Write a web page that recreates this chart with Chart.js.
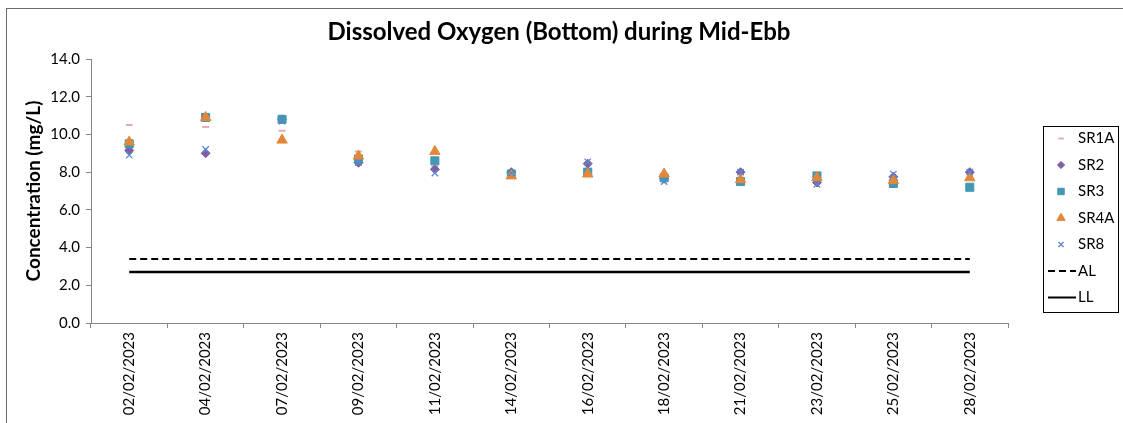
<!DOCTYPE html>
<html>
<head>
<meta charset="utf-8">
<script src="https://cdn.jsdelivr.net/npm/chart.js@4.4.1/dist/chart.umd.min.js"></script>
<style>
  html, body { margin: 0; padding: 0; background: #ffffff; }
  #wrap { width: 1123px; height: 423px; position: relative; }
</style>
</head>
<body>
<div id="wrap"><canvas id="c" width="1123" height="423"></canvas></div>
<script>
const categories = ["02/02/2023","04/02/2023","07/02/2023","09/02/2023","11/02/2023","14/02/2023","16/02/2023","18/02/2023","21/02/2023","23/02/2023","25/02/2023","28/02/2023"];
const sr1a = [10.5, 10.4, 10.2, 9.1, 8.3, 7.9, 8.0, 7.7, 7.5, 7.8, 7.5, 7.7];
const sr2  = [9.15, 9.0, 10.8, 8.5, 8.15, 8.0, 8.45, 7.65, 8.0, 7.45, 7.75, 8.0];
const sr3  = [9.5, 10.9, 10.8, 8.7, 8.6, 7.9, 8.0, 7.7, 7.5, 7.8, 7.4, 7.2];
const sr4a = [9.6, 10.9, 9.7, 8.85, 9.1, 7.8, 7.9, 7.9, 7.6, 7.7, 7.55, 7.7];
const sr8  = [8.9, 9.2, 10.7, 8.5, 7.95, 7.95, 8.55, 7.5, 8.0, 7.35, 7.9, 8.0];
const alValue = 3.4;
const llValue = 2.7;
const alLine = categories.map(() => alValue);
const llLine = categories.map(() => llValue);
const yTicks = [0, 2, 4, 6, 8, 10, 12, 14];
const chartTitle = 'Dissolved Oxygen (Bottom) during Mid-Ebb';
const yTitle = 'Concentration (mg/L)';

const FONT = "Lato, 'Open Sans', 'Liberation Sans', sans-serif";

function scatterSet(label, data, color, style, radius, order) {
  return {
    label, data, order,
    showLine: false,
    borderColor: color,
    backgroundColor: color,
    pointStyle: style,
    pointRadius: radius,
    pointHoverRadius: radius,
    pointBorderWidth: style === 'line' ? 2 : (style === 'crossRot' ? 1.3 : 1),
    pointBackgroundColor: color,
    pointBorderColor: color
  };
}

const datasets = [
  scatterSet('SR1A', sr1a, '#E2AEB4', 'line', 3.5, 5),
  scatterSet('SR2', sr2, '#7D5FA3', 'rectRot', 4.5, 4),
  scatterSet('SR3', sr3, '#4298B2', 'rect', 5.7, 3),
  scatterSet('SR4A', sr4a, '#E3883A', 'triangle', 6, 2),
  scatterSet('SR8', sr8, '#5A88CC', 'crossRot', 4.5, 1),
  { label: 'AL', data: alLine, order: 6, showLine: true, borderColor: '#000000', borderWidth: 2, borderDash: [7, 4], pointRadius: 0, fill: false },
  { label: 'LL', data: llLine, order: 7, showLine: true, borderColor: '#000000', borderWidth: 2.5, pointRadius: 0, fill: false }
];

const frameAndLegend = {
  id: 'frameAndLegend',
  afterDraw(chart) {
    const ctx = chart.ctx;
    ctx.save();
    // outer frame
    ctx.strokeStyle = '#6b6b6b';
    ctx.lineWidth = 1;
    ctx.strokeRect(6.5, 8.5, 1300, 600);
    // title
    ctx.fillStyle = '#000000';
    ctx.font = "bold 24px " + FONT;
    ctx.textAlign = 'center';
    ctx.textBaseline = 'middle';
    ctx.fillText(chartTitle, 559, 32);
    // legend box
    ctx.textAlign = 'left';
    const bx = 1043.5, by = 126.5, bw = 75, bh = 186;
    ctx.strokeStyle = '#000000';
    ctx.strokeRect(bx, by, bw, bh);
    const rowY0 = 138.5, rowStep = 26.5;
    ctx.font = "15px " + FONT;
    ctx.textBaseline = 'middle';
    chart.data.datasets.forEach((ds, i) => {
      const y = rowY0 + i * rowStep;
      ctx.save();
      if (ds.showLine) {
        ctx.strokeStyle = '#000000';
        ctx.lineWidth = 2;
        ctx.setLineDash(ds.borderDash || []);
        ctx.beginPath();
        ctx.moveTo(1048, y);
        ctx.lineTo(1076, y);
        ctx.stroke();
      } else {
        ctx.strokeStyle = ds.borderColor;
        ctx.fillStyle = ds.backgroundColor;
        ctx.lineWidth = ds.pointBorderWidth;
        Chart.helpers.drawPoint(ctx, { pointStyle: ds.pointStyle, radius: ds.pointRadius * 0.8, borderWidth: ds.pointBorderWidth, rotation: 0 }, 1061, y);
      }
      ctx.restore();
      ctx.fillStyle = '#000000';
      ctx.fillText(ds.label, 1078, y);
    });
    ctx.restore();
  }
};

new Chart(document.getElementById('c'), {
  type: 'line',
  data: { labels: categories, datasets },
  options: {
    responsive: false,
    animation: false,
    devicePixelRatio: 1,
    layout: { padding: { left: 12, right: 115, top: 59, bottom: 0 } },
    plugins: {
      legend: { display: false },
      tooltip: { enabled: false },
      title: { display: false }
    },
    scales: {
      x: {
        type: 'category',
        offset: true,
        grid: { offset: true, drawOnChartArea: false, drawTicks: true, tickLength: 5, color: '#868686' },
        border: { color: '#868686', width: 1 },
        ticks: { minRotation: 90, maxRotation: 90, color: '#000000', font: { family: FONT, size: 15 }, padding: 4, autoSkip: false },
        afterFit(s) { s.height = 100; }
      },
      y: {
        min: 0, max: 14,
        afterBuildTicks(s) { s.ticks = yTicks.map(v => ({ value: v })); },
        grid: { drawOnChartArea: false, drawTicks: true, tickLength: 5, color: '#868686' },
        border: { color: '#868686', width: 1 },
        ticks: { color: '#000000', font: { family: FONT, size: 15 }, padding: 6, callback: v => Number(v).toFixed(1) },
        title: { display: true, text: yTitle, color: '#000000', font: { family: FONT, size: 19, weight: 'bold' }, padding: { top: 10, bottom: 6 } },
        afterFit(s) { s.width = 79; }
      }
    }
  },
  plugins: [frameAndLegend]
});
</script>
</body>
</html>
